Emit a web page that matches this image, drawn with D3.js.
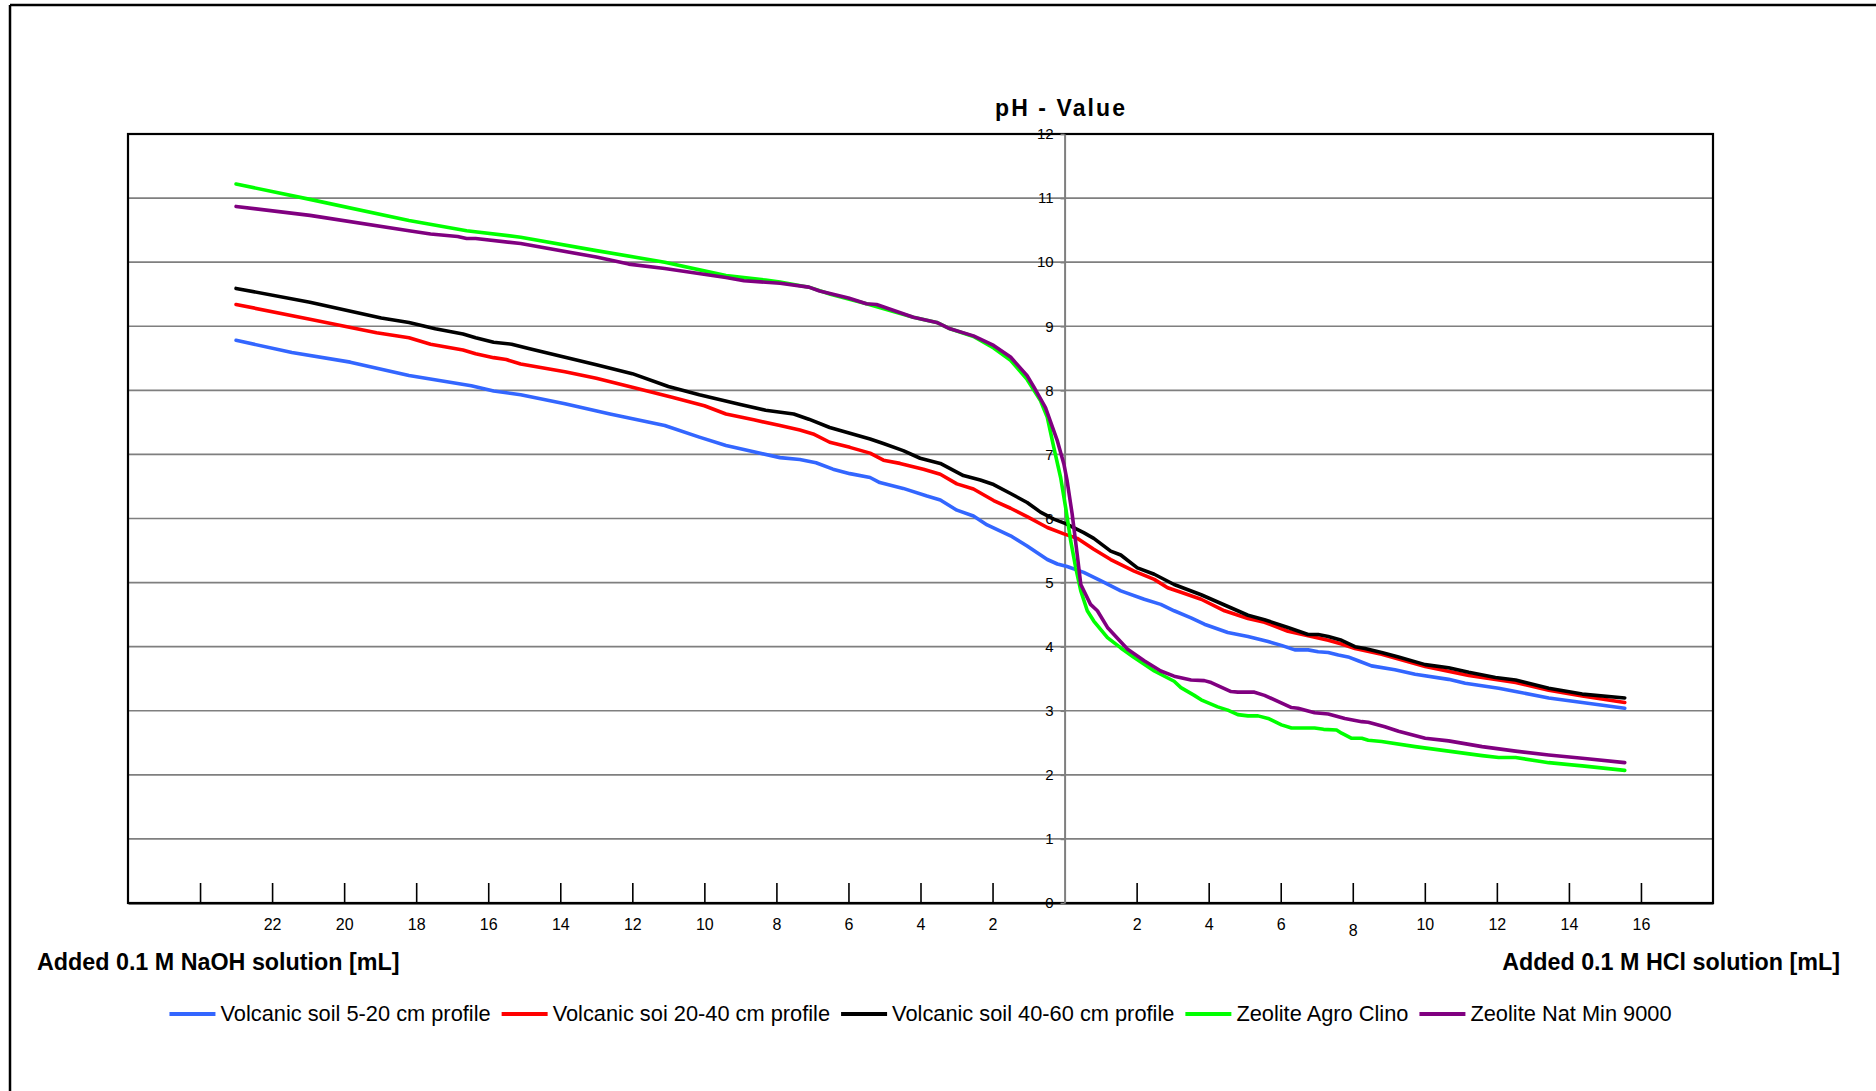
<!DOCTYPE html>
<html>
<head>
<meta charset="utf-8">
<script src="https://cdnjs.cloudflare.com/ajax/libs/d3/7.8.5/d3.min.js"></script>
<style>
  html, body { margin: 0; padding: 0; background: #fff; }
  svg { display: block; font-family: "Liberation Sans", Arial, sans-serif; }
</style>
</head>
<body>
<svg id="chart" width="1876" height="1091"></svg>
<script>
// ---------------- DATA (mL added: negative = NaOH side, positive = HCl side) ----------------
const seriesNames = [
  "Volcanic soil 5-20 cm profile",
  "Volcanic soi 20-40 cm profile",
  "Volcanic soil 40-60 cm profile",
  "Zeolite Agro Clino",
  "Zeolite Nat Min 9000"
];
const seriesColors = ["#3366FF", "#FF0000", "#000000", "#00FF00", "#800080"];

const soil5to20 = [
  [-23.0,8.78],[-21.45,8.59],[-19.83,8.44],[-18.2,8.23],[-16.47,8.07],[-15.85,7.99],[-15.1,7.93],
  [-13.87,7.79],[-12.62,7.63],[-11.1,7.45],[-10.14,7.27],[-9.4,7.14],[-8.63,7.04],[-7.9,6.95],
  [-7.35,6.92],[-6.9,6.87],[-6.43,6.77],[-5.96,6.70],[-5.40,6.64],[-5.13,6.56],[-4.48,6.47],
  [-3.82,6.35],[-3.45,6.29],[-2.99,6.13],[-2.53,6.04],[-2.15,5.90],[-1.50,5.73],[-1.04,5.57],
  [-0.48,5.36],[-0.20,5.29],[0.07,5.25],[0.53,5.16],[1.0,5.03],[1.56,4.87],[2.21,4.74],
  [2.67,4.66],[3.04,4.56],[3.51,4.45],[3.88,4.35],[4.53,4.22],[5.09,4.16],[5.65,4.08],
  [6.02,4.02],[6.39,3.95],[6.76,3.95],[7.04,3.92],[7.32,3.91],[7.60,3.87],[7.87,3.84],
  [8.15,3.78],[8.52,3.70],[9.17,3.64],[9.73,3.57],[10.66,3.49],[11.12,3.43],[12.05,3.35],
  [12.52,3.30],[13.44,3.20],[14.37,3.13],[15.55,3.04]
];
const soil20to40 = [
  [-23.0,9.34],[-20.95,9.11],[-19.1,8.90],[-18.2,8.82],[-17.6,8.72],[-16.7,8.63],[-16.35,8.57],
  [-15.85,8.51],[-15.5,8.48],[-15.1,8.41],[-13.87,8.29],[-13.0,8.19],[-12.0,8.05],[-10.87,7.89],
  [-10.0,7.76],[-9.4,7.63],[-8.63,7.54],[-7.9,7.45],[-7.35,7.38],[-6.98,7.32],[-6.52,7.19],
  [-5.96,7.11],[-5.40,7.02],[-5.03,6.91],[-4.57,6.86],[-3.92,6.77],[-3.45,6.69],[-2.99,6.54],
  [-2.53,6.46],[-1.97,6.28],[-1.50,6.16],[-1.04,6.03],[-0.48,5.86],[-0.02,5.76],[0.35,5.69],
  [0.81,5.52],[1.28,5.36],[1.93,5.18],[2.49,5.05],[2.86,4.92],[3.23,4.85],[3.79,4.74],
  [4.44,4.56],[5.09,4.44],[5.55,4.38],[6.20,4.24],[6.76,4.17],[7.32,4.10],[7.69,4.04],
  [8.06,3.97],[8.80,3.88],[10.01,3.69],[11.22,3.55],[12.52,3.44],[13.44,3.32],[14.37,3.23],
  [15.55,3.13]
];
const soil40to60 = [
  [-23.0,9.59],[-20.95,9.375],[-18.97,9.13],[-18.2,9.06],[-17.47,8.96],[-16.7,8.88],[-16.35,8.82],
  [-15.85,8.75],[-15.35,8.72],[-14.85,8.65],[-13.0,8.40],[-12.0,8.26],[-11.0,8.06],[-10.14,7.93],
  [-9.0,7.78],[-8.3,7.69],[-7.52,7.63],[-7.1,7.55],[-6.52,7.42],[-5.96,7.33],[-5.40,7.24],
  [-5.03,7.17],[-4.48,7.06],[-4.01,6.94],[-3.45,6.86],[-2.81,6.67],[-2.34,6.60],[-1.97,6.53],
  [-1.50,6.39],[-1.04,6.25],[-0.67,6.10],[-0.30,5.99],[0.03,5.92],[0.53,5.78],[0.81,5.69],
  [1.28,5.49],[1.56,5.43],[2.02,5.23],[2.49,5.13],[3.04,4.97],[3.79,4.81],[4.44,4.65],
  [5.09,4.49],[5.55,4.42],[6.20,4.30],[6.76,4.19],[7.04,4.19],[7.32,4.16],[7.69,4.10],
  [8.06,4.00],[8.34,3.97],[8.80,3.91],[9.27,3.84],[10.01,3.72],[10.66,3.67],[11.22,3.60],
  [11.96,3.52],[12.52,3.48],[13.44,3.35],[14.37,3.26],[15.55,3.20]
];
const zeoliteAgroClino = [
  [-23.0,11.22],[-20.95,10.98],[-18.2,10.65],[-16.6,10.49],[-15.1,10.39],[-13.0,10.18],[-11.1,10.00],
  [-9.4,9.79],[-8.3,9.72],[-7.9,9.69],[-7.1,9.61],[-6.5,9.50],[-5.5,9.35],[-4.2,9.14],[-3.55,9.06],
  [-3.18,8.96],[-2.53,8.84],[-1.97,8.66],[-1.5,8.47],[-1.04,8.17],[-0.67,7.84],[-0.48,7.58],
  [-0.30,7.11],[-0.11,6.64],[0.03,6.17],[0.17,5.65],[0.31,5.23],[0.45,4.87],[0.63,4.56],
  [0.81,4.40],[1.19,4.14],[1.56,3.98],[1.93,3.83],[2.49,3.62],[3.04,3.46],[3.23,3.36],
  [3.60,3.24],[3.79,3.17],[4.25,3.06],[4.53,3.01],[4.81,2.94],[5.09,2.92],[5.37,2.92],
  [5.65,2.88],[6.02,2.78],[6.30,2.73],[6.94,2.73],[7.19,2.71],[7.55,2.70],[7.69,2.65],
  [7.97,2.57],[8.25,2.57],[8.43,2.54],[8.80,2.52],[9.73,2.44],[10.66,2.37],[11.59,2.30],
  [12.05,2.27],[12.52,2.27],[13.44,2.19],[14.37,2.14],[15.55,2.07]
];
const zeoliteNatMin = [
  [-23.0,10.87],[-20.95,10.73],[-18.2,10.49],[-17.6,10.44],[-16.85,10.40],[-16.6,10.37],[-16.35,10.37],
  [-15.1,10.29],[-13.0,10.08],[-12.1,9.97],[-11.1,9.90],[-9.4,9.76],[-8.9,9.71],[-7.9,9.67],
  [-7.1,9.61],[-6.8,9.55],[-6.0,9.44],[-5.5,9.35],[-5.22,9.34],[-4.2,9.14],[-3.55,9.06],
  [-3.18,8.96],[-2.53,8.85],[-1.97,8.70],[-1.50,8.52],[-1.04,8.23],[-0.85,8.05],[-0.53,7.73],
  [-0.20,7.21],[-0.02,6.85],[0.07,6.59],[0.21,6.07],[0.35,5.44],[0.45,4.97],[0.72,4.66],
  [0.91,4.56],[1.19,4.30],[1.75,3.96],[2.21,3.78],[2.67,3.62],[3.04,3.54],[3.51,3.48],
  [3.88,3.47],[4.07,3.44],[4.62,3.30],[4.81,3.29],[5.27,3.29],[5.55,3.24],[6.30,3.05],
  [6.48,3.04],[6.94,2.97],[7.32,2.95],[7.78,2.88],[8.25,2.83],[8.43,2.82],[8.89,2.75],
  [9.27,2.68],[10.01,2.57],[10.66,2.53],[11.59,2.44],[12.52,2.37],[13.44,2.31],[14.37,2.26],
  [15.55,2.19]
];

const xTickValues = [-24,-22,-20,-18,-16,-14,-12,-10,-8,-6,-4,-2,2,4,6,8,10,12,14,16];
const xTickLabels = ["","22","20","18","16","14","12","10","8","6","4","2","2","4","6","8","10","12","14","16"];
const yTickValues = [0,1,2,3,4,5,6,7,8,9,10,11,12];

const chartTitle = "pH - Value";
const leftAxisTitle = "Added 0.1 M NaOH solution [mL]";
const rightAxisTitle = "Added 0.1 M HCl solution [mL]";

// ---------------- LAYOUT ----------------
const plot = { left: 128, right: 1713, top: 134, bottom: 903 };
const svg = d3.select("#chart");

const x = d3.scaleLinear().domain([-26, 18]).range([plot.left, plot.right]);
const y = d3.scaleLinear().domain([0, 12]).range([plot.bottom, plot.top]);

// outer frame (top & left visible)
svg.append("line").attr("x1", 10).attr("x2", 1876).attr("y1", 5).attr("y2", 5)
  .attr("stroke", "#000").attr("stroke-width", 2.5);
svg.append("line").attr("x1", 10).attr("x2", 10).attr("y1", 5).attr("y2", 1091)
  .attr("stroke", "#000").attr("stroke-width", 2.5);

// gridlines
svg.append("g").selectAll("line").data(yTickValues.filter(v => v > 0 && v < 12)).join("line")
  .attr("x1", plot.left).attr("x2", plot.right)
  .attr("y1", d => y(d)).attr("y2", d => y(d))
  .attr("stroke", "#7f7f7f").attr("stroke-width", 1.6);

// plot border
svg.append("rect").attr("x", plot.left).attr("y", plot.top)
  .attr("width", plot.right - plot.left).attr("height", plot.bottom - plot.top)
  .attr("fill", "none").attr("stroke", "#000").attr("stroke-width", 2.2);

// x axis (ticks pointing up into plot)
const xAxis = d3.axisBottom(x).tickValues(xTickValues)
  .tickFormat((d, i) => xTickLabels[i]).tickSizeInner(-20).tickSizeOuter(0).tickPadding(16);
const gx = svg.append("g").attr("transform", `translate(0,${plot.bottom})`).call(xAxis);
gx.select(".domain").attr("stroke", "#000").attr("stroke-width", 2.2);
gx.selectAll(".tick line").attr("stroke", "#000").attr("stroke-width", 1.6);
gx.selectAll(".tick text").attr("font-size", 16).attr("fill", "#000")
  .attr("font-family", "Liberation Sans, Arial, sans-serif")
  .attr("dy", d => d === 8 ? "1.05em" : "0.71em");

// y axis at x = 0
const yAxis = d3.axisLeft(y).tickValues(yTickValues).tickSizeInner(4).tickSizeOuter(0).tickPadding(7);
const gy = svg.append("g").attr("transform", `translate(${x(0)},0)`).call(yAxis);
gy.select(".domain").attr("stroke", "#7f7f7f").attr("stroke-width", 2);
gy.selectAll(".tick line").attr("stroke", "#7f7f7f").attr("stroke-width", 1.6);
gy.selectAll(".tick text").attr("font-size", 15).attr("fill", "#000")
  .attr("font-family", "Liberation Sans, Arial, sans-serif");

// series
const allSeries = [soil5to20, soil20to40, soil40to60, zeoliteAgroClino, zeoliteNatMin];
const line = d3.line().x(d => x(d[0])).y(d => y(d[1]));
svg.append("g").selectAll("path").data(allSeries).join("path")
  .attr("d", line).attr("fill", "none")
  .attr("stroke", (d, i) => seriesColors[i]).attr("stroke-width", 3.6)
  .attr("stroke-linejoin", "round").attr("stroke-linecap", "round");

// titles
svg.append("text").attr("x", 1060).attr("y", 116).attr("text-anchor", "middle")
  .attr("font-size", 23).attr("font-weight", "bold").attr("textLength", 130)
  .attr("lengthAdjust", "spacing").text(chartTitle);
svg.append("text").attr("x", 37).attr("y", 970)
  .attr("font-size", 23.3).attr("font-weight", "bold").text(leftAxisTitle);
svg.append("text").attr("x", 1840).attr("y", 970).attr("text-anchor", "end")
  .attr("font-size", 23.3).attr("font-weight", "bold").text(rightAxisTitle);

// legend
const legend = svg.append("g");
const legendY = 1014;
let cursor = 0;
seriesNames.forEach((name, i) => {
  const g = legend.append("g");
  g.append("line").attr("x1", 0).attr("x2", 46).attr("y1", 0).attr("y2", 0)
    .attr("stroke", seriesColors[i]).attr("stroke-width", 4);
  const t = g.append("text").attr("x", 51).attr("y", 7).attr("font-size", 21.8).text(name);
  const w = t.node().getComputedTextLength();
  g.attr("transform", `translate(${cursor},${legendY})`);
  cursor += 51 + w + 11;
});
const totalW = cursor - 11;
legend.attr("transform", `translate(${(plot.left + plot.right) / 2 - totalW / 2},0)`);
</script>
</body>
</html>
